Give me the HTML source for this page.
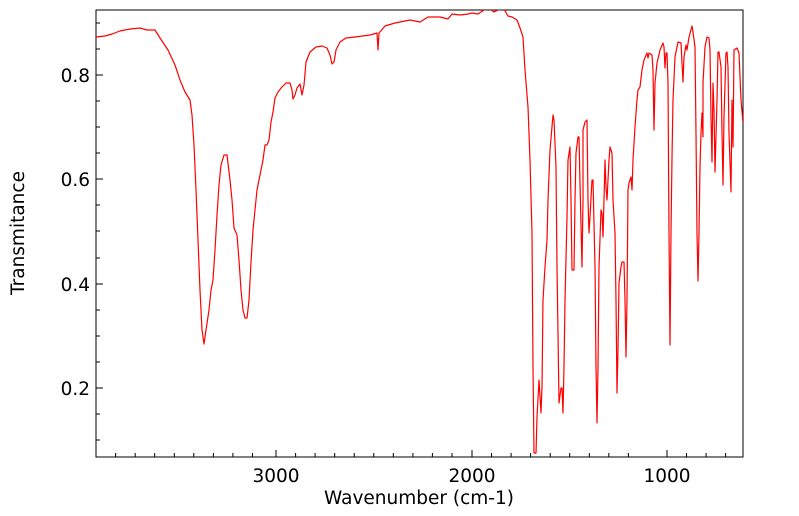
<!DOCTYPE html>
<html><head><meta charset="utf-8"><style>
html,body{margin:0;padding:0;background:#fff;}
svg{display:block;font-family:"DejaVu Sans","Liberation Sans",sans-serif;}
</style></head><body>
<svg width="799" height="516" viewBox="0 0 799 516" xmlns="http://www.w3.org/2000/svg">
<defs><clipPath id="c"><rect x="96" y="10" width="647" height="447"/></clipPath></defs>
<rect x="96" y="10" width="647" height="447" fill="none" stroke="#000" stroke-width="1"/>
<g font-size="18.5" fill="#000" text-anchor="middle">
<text x="276" y="482">3000</text>
<text x="472" y="482">2000</text>
<text x="667" y="482">1000</text>
<text x="419" y="504">Wavenumber (cm-1)</text>
</g>
<g font-size="18.5" fill="#000" text-anchor="end">
<text x="90" y="82">0.8</text>
<text x="90" y="186">0.6</text>
<text x="90" y="291">0.4</text>
<text x="90" y="395">0.2</text>
</g>
<text x="24" y="233" font-size="18.5" text-anchor="middle" transform="rotate(-90 24 233)">Transmitance</text>
<g clip-path="url(#c)">
<polyline fill="none" stroke="#ff0000" stroke-width="1.2" stroke-linejoin="round" points="96,37 105,36 112,34 120,31 130,29 140,28 147,30 155,30 160,38 168,50 175,65 180,80 185,92 190,100 192,115 194,145 196,190 198,240 200,290 202,330 204,344 206,330 209,310 211,290 213,280 215,250 217,215 219,185 221,165 224,155 227,155 230,180 232,200 234,228 237,235 239,260 241,290 243,310 245,318 247,318 249,300 251,262 253,230 255,210 257,190 259,180 261,170 263,160 265,145 267,145 269,140 271,122 273,112 275,98 278,92 282,87 286,83 290,83 292,90 293,99 295,95 297,88 300,84 302,95 304,85 306,62 310,52 316,47 322,46 327,48 330,55 332,64 334,62 336,50 340,42 346,38 355,37 370,35 377,33 378,50 379,33 385,26 395,23 410,20 420,22 428,17 440,17 448,19 452,14 460,15 468,14 472,13 478,14 484,10 490,9 494,12 498,10 504,9 508,16 512,17 517,20 520,28 523,37 525,70 528,107 530,160 532,233 533,367 534,453 536,453 537,417 539,380 541,413 542,387 543,300 545,267 547,240 548,200 550,150 553,115 554,120 556,167 557,267 558,333 559,403 561,388 562,388 563,413 564,367 565,300 567,217 568,160 570,147 571,200 572,270 574,270 575,200 576,153 578,137 579,137 580,183 582,267 583,200 583,130 585,122 587,120 588,200 589,233 590,217 592,180 593,180 595,267 596,367 597,423 598,367 599,267 601,210 602,213 603,237 604,200 605,160 606,187 607,200 609,160 610,147 612,153 613,200 615,233 616,300 617,393 618,350 619,283 621,267 622,262 624,262 625,300 626,357 627,300 628,190 629,183 631,177 632,190 633,160 635,127 637,100 638,90 640,87 642,70 644,60 647,53 648,58 649,53 652,55 653,70 654,130 655,83 657,63 660,50 663,43 664,47 665,68 666,53 667,53 668,83 669,233 670,345 671,233 672,157 673,100 675,57 677,47 678,42 681,43 682,63 683,82 684,57 686,45 687,50 689,37 692,26 693,32 695,47 696,133 697,233 698,281 699,233 700,167 701,133 702,113 703,137 703,83 705,47 707,37 709,38 710,50 711,117 712,162 713,83 714,110 715,172 717,100 718,52 719,52 721,67 722,133 723,185 724,117 726,53 727,52 728,67 729,133 731,192 732,100 733,147 734,50 737,48 739,53 741,100 743,123"/>
</g>
<g stroke="#000" stroke-width="1">
<path d="M276,457v-7M472,457v-7M667,457v-7"/>
<path d="M115.6,457v-4M135.2,457v-4M154.7,457v-4M174.3,457v-4M193.8,457v-4M213.4,457v-4M232.9,457v-4M252.5,457v-4M295.6,457v-4M315.1,457v-4M334.7,457v-4M354.2,457v-4M373.8,457v-4M393.3,457v-4M412.9,457v-4M432.4,457v-4M452,457v-4M491.5,457v-4M511.1,457v-4M530.6,457v-4M550.2,457v-4M569.7,457v-4M589.3,457v-4M608.8,457v-4M628.4,457v-4M686.5,457v-4M706.1,457v-4M725.6,457v-4"/>
<path d="M96,75h7M96,179h7M96,284h7M96,388h7"/>
<path d="M96,23h4M96,49h4M96,101h4M96,127h4M96,153h4M96,205h4M96,231h4M96,258h4M96,310h4M96,336h4M96,362h4M96,414h4M96,440h4"/>
</g>
</svg>
</body></html>
